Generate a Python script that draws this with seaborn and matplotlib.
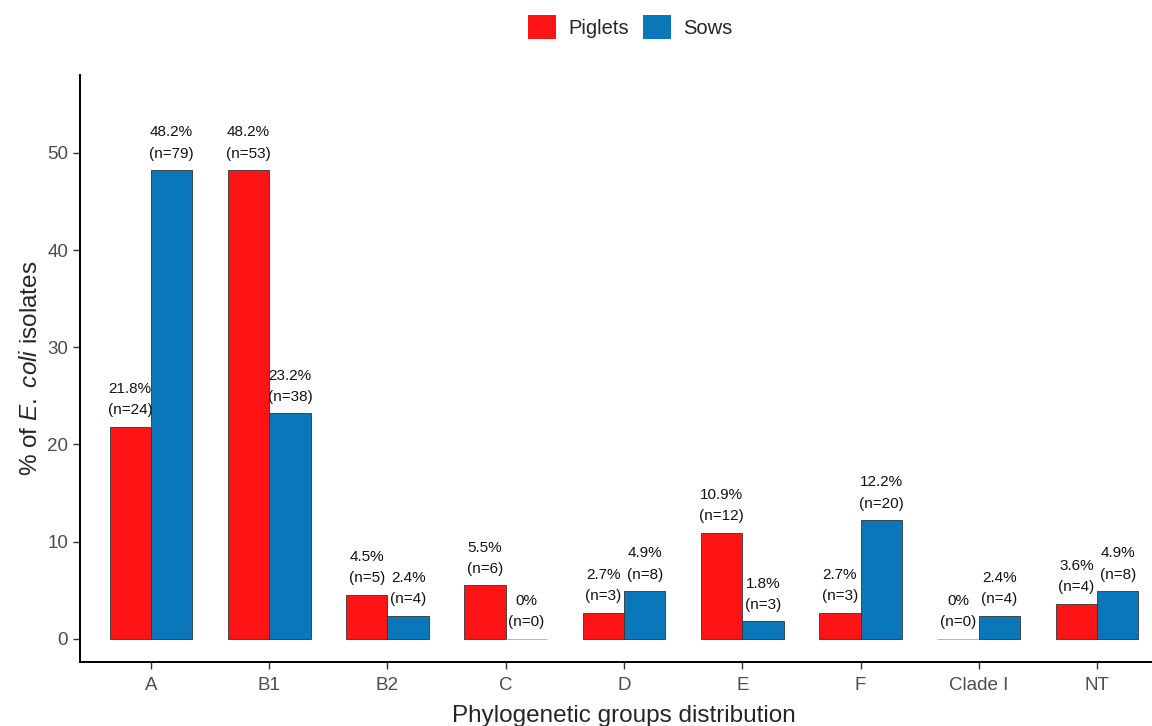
import numpy as np
import pandas as pd
import matplotlib
matplotlib.use('Agg')
import matplotlib.pyplot as plt
import seaborn as sns

# data
groups = ['A', 'B1', 'B2', 'C', 'D', 'E', 'F', 'Clade I', 'NT']
piglets_pct = [21.8, 48.2, 4.5, 5.5, 2.7, 10.9, 2.7, 0, 3.6]
piglets_n = [24, 53, 5, 6, 3, 12, 3, 0, 4]
sows_pct = [48.2, 23.2, 2.4, 0, 4.9, 1.8, 12.2, 2.4, 4.9]
sows_n = [79, 38, 4, 0, 8, 3, 20, 4, 8]

df = pd.DataFrame({
    'group': groups * 2,
    'pct': piglets_pct + sows_pct,
    'n': piglets_n + sows_n,
    'host': ['Piglets'] * len(groups) + ['Sows'] * len(groups),
})

sns.set_style('white')
plt.rcParams['font.family'] = ['Liberation Sans', 'DejaVu Sans']
plt.rcParams['mathtext.fontset'] = 'custom'
plt.rcParams['mathtext.rm'] = 'Liberation Sans'
plt.rcParams['mathtext.it'] = 'Liberation Sans:italic'

fig = plt.figure(figsize=(11.52, 7.26), dpi=100)
ax = fig.add_axes([80 / 1152, 1 - 662 / 726, 1088 / 1152, (662 - 75) / 726])

palette = {'Piglets': '#FF1416', 'Sows': '#0A77BA'}
sns.barplot(data=df, x='group', y='pct', hue='host', order=groups,
            hue_order=['Piglets', 'Sows'], palette=palette, width=0.7,
            edgecolor='#333333', linewidth=0.6, saturation=1, ax=ax)

# zero-height bars show as a thin grey line
for cont in ax.containers:
    for b in cont:
        if b.get_height() == 0:
            b.set_edgecolor('#AAAAAA')

# labels above bars
for cont, pcts, ns in zip(ax.containers, [piglets_pct, sows_pct], [piglets_n, sows_n]):
    labels = [f'{p:g}%\n(n={n})' for p, n in zip(pcts, ns)]
    ax.bar_label(cont, labels=labels, padding=7, fontsize=11, linespacing=1.65, color='#111111')

ax.set_xlim(-0.6, 8.6)
ax.set_ylim(-2.37, 58)
ax.set_yticks([0, 10, 20, 30, 40, 50])
ax.set_xlabel('Phylogenetic groups distribution', fontsize=17.5, labelpad=8)
ax.set_ylabel(r'% of $\it{E.\ coli}$ isolates', fontsize=17.5, labelpad=4)
ax.tick_params(axis='both', labelsize=13.5, labelcolor='#4D4D4D', length=5, width=1,
               color='#333333', left=True, bottom=True)
ax.tick_params(axis='x', pad=6)
sns.despine(ax=ax)
for s in ['left', 'bottom']:
    ax.spines[s].set_color('black')
    ax.spines[s].set_linewidth(1.4)

ax.legend_.remove()
handles = [plt.Rectangle((0, 0), 1, 1, facecolor=palette[h], edgecolor='none') for h in ['Piglets', 'Sows']]
fig.legend(handles, ['Piglets', 'Sows'], loc='center', bbox_to_anchor=(630 / 1152, 1 - 27 / 726),
           ncol=2, frameon=False, fontsize=14.5, handlelength=1.4, handleheight=1.4,
           handletextpad=0.6, columnspacing=0.7)

fig.savefig('out.png', dpi=100)
